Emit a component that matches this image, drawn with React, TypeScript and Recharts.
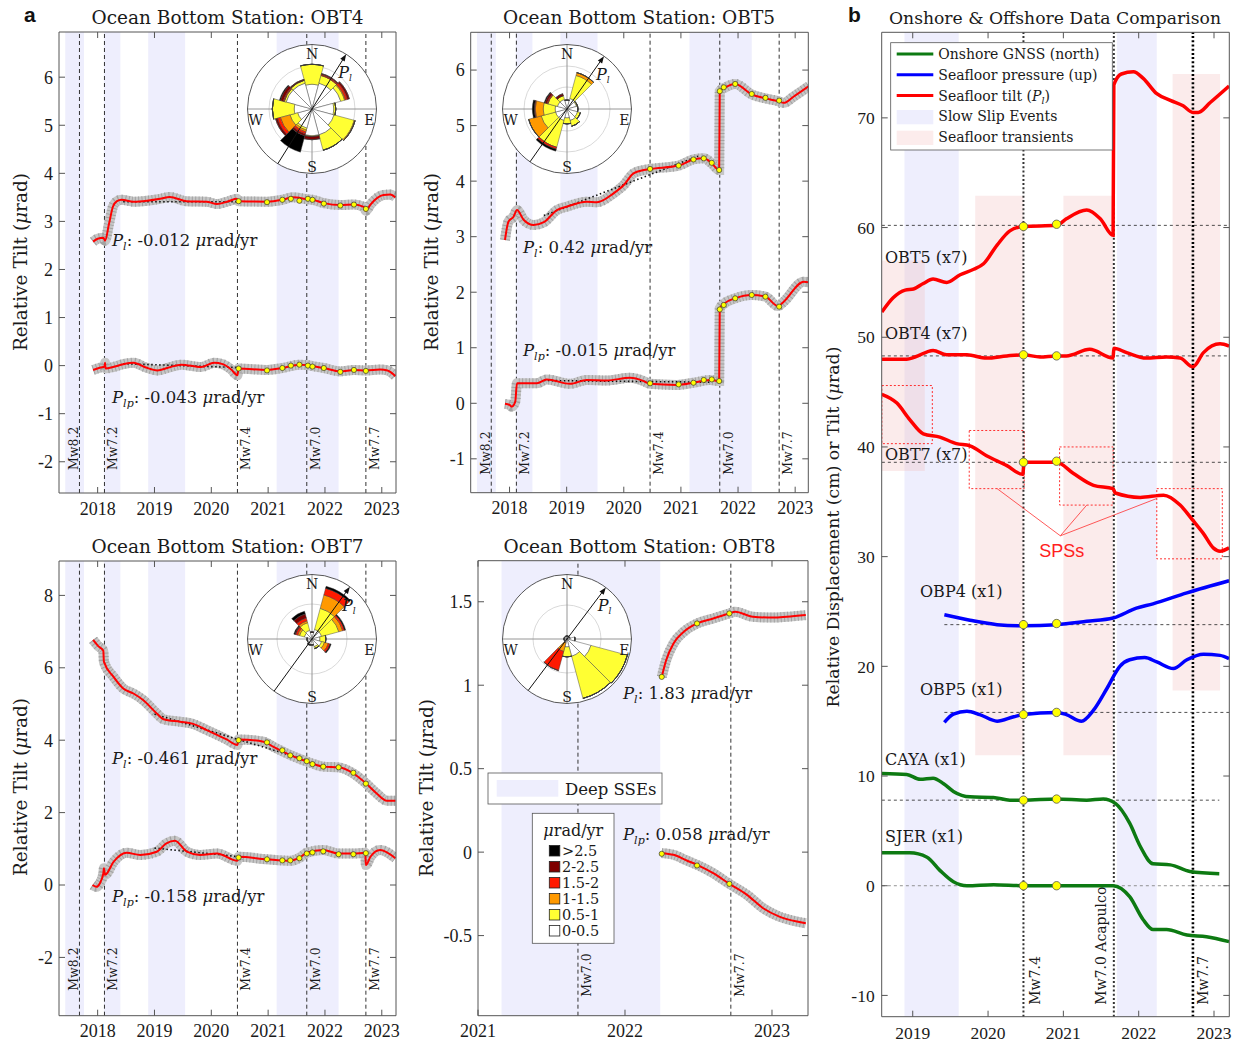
import React from 'react';
import {
  ComposedChart, Line, XAxis, YAxis, ReferenceArea, ReferenceLine,
  RadialBarChart, RadialBar, PolarAngleAxis, PolarRadiusAxis,
} from 'recharts';

const SERIF = '"DejaVu Serif", "Liberation Serif", serif';
const TICKFONT = '"Liberation Serif", "DejaVu Serif", serif';
const SANS = '"Liberation Sans", Arial, sans-serif';
const SSE_FILL = '#eeeefd';
const AXIS_COLOR = '#555';
const TXT = '#1a1a1a';

// ---------------- shared tick labels / events ----------------
const yearTicksA = [2018, 2019, 2020, 2021, 2022, 2023];
const yearTicksB = [2019, 2020, 2021, 2022, 2023];
const yearTicks8 = [2021, 2022, 2023];
const quakeX = [2017.68, 2018.12, 2020.46, 2021.68, 2022.72];
const quakeLabels = ['Mw8.2', 'Mw7.2', 'Mw7.4', 'Mw7.0', 'Mw7.7'];
const quakeSide = [-1, 1, 1, 1, 1];
const sseBandsA = [[2017.43, 2017.76], [2018.11, 2018.4], [2018.89, 2019.54], [2021.15, 2022.24]];
const sseBands8 = [[2021.16, 2022.24]];

// ---------------- OBT4 ----------------
const obt4Pl = [[2017.92,2.58],[2018.0,2.64],[2018.1,2.66],[2018.13,2.6],[2018.2,2.95],[2018.27,3.31],[2018.34,3.42],[2018.42,3.45],[2018.63,3.41],[2018.87,3.43],[2019.1,3.47],[2019.27,3.51],[2019.56,3.42],[2019.92,3.41],[2020.1,3.36],[2020.3,3.42],[2020.45,3.47],[2020.48,3.42],[2020.98,3.41],[2021.25,3.45],[2021.43,3.5],[2021.7,3.46],[2021.78,3.45],[2021.98,3.38],[2022.27,3.34],[2022.51,3.35],[2022.68,3.3],[2022.72,3.22],[2022.8,3.35],[2023.03,3.55],[2023.15,3.56],[2023.24,3.5]];
const obt4Plp = [[2017.92,-0.09],[2018.05,-0.04],[2018.12,-0.02],[2018.13,0.06],[2018.14,-0.06],[2018.27,-0.03],[2018.45,0.03],[2018.63,0.06],[2018.85,-0.04],[2019.05,-0.1],[2019.25,-0.04],[2019.47,0.02],[2019.82,-0.03],[2020.05,0.06],[2020.2,0.03],[2020.35,-0.08],[2020.46,-0.2],[2020.48,-0.06],[2020.98,-0.09],[2021.25,-0.05],[2021.55,0.02],[2021.7,0.01],[2021.78,-0.01],[2021.98,-0.05],[2022.27,-0.12],[2022.51,-0.09],[2022.72,-0.1],[2022.97,-0.08],[2023.1,-0.1],[2023.24,-0.22]];
const obt4DotsPl = [[2020.48,3.42],[2020.98,3.4],[2021.25,3.45],[2021.4,3.47],[2021.55,3.43],[2021.7,3.47],[2021.78,3.45],[2021.98,3.37],[2022.27,3.33],[2022.51,3.35],[2022.72,3.26]];
const obt4DotsPlp = [[2020.48,-0.06],[2020.98,-0.1],[2021.25,-0.05],[2021.4,0.0],[2021.55,0.02],[2021.7,0.0],[2021.78,-0.02],[2021.98,-0.05],[2022.27,-0.13],[2022.51,-0.09],[2022.72,-0.11]];
const obt4TrendPl = [[2018.45,3.41],[2020.48,3.41]];
const obt4TrendPlp = [[2018.45,0.04],[2020.48,-0.04]];

// ---------------- OBT5 ----------------
const obt5Pl = [[2017.92,2.94],[2017.98,3.27],[2018.07,3.36],[2018.13,3.48],[2018.25,3.3],[2018.42,3.21],[2018.6,3.26],[2018.83,3.48],[2019.0,3.54],[2019.35,3.63],[2019.53,3.62],[2019.82,3.78],[2020.0,3.93],[2020.17,4.14],[2020.35,4.2],[2020.46,4.22],[2020.96,4.28],[2021.22,4.39],[2021.4,4.41],[2021.54,4.32],[2021.67,4.2],[2021.68,5.62],[2021.78,5.69],[2021.95,5.75],[2022.24,5.56],[2022.48,5.49],[2022.7,5.44],[2022.8,5.41],[2022.97,5.52],[2023.24,5.71]];
const obt5Plp = [[2017.92,-0.01],[2018.0,-0.03],[2018.04,-0.06],[2018.1,0.03],[2018.13,0.36],[2018.48,0.36],[2018.65,0.43],[2019.06,0.35],[2019.35,0.42],[2019.7,0.41],[2020.11,0.46],[2020.35,0.4],[2020.46,0.35],[2020.93,0.33],[2021.22,0.37],[2021.51,0.42],[2021.67,0.4],[2021.68,1.71],[2021.75,1.79],[2021.95,1.89],[2022.24,1.95],[2022.48,1.92],[2022.7,1.75],[2022.8,1.83],[2023.15,2.19],[2023.24,2.18]];
const obt5DotsPl = [[2020.46,4.22],[2020.96,4.28],[2021.22,4.39],[2021.4,4.41],[2021.54,4.33],[2021.67,4.2],[2021.68,5.62],[2021.75,5.69],[2021.95,5.75],[2022.24,5.57],[2022.48,5.5],[2022.72,5.45]];
const obt5DotsPlp = [[2020.46,0.36],[2020.96,0.34],[2021.22,0.37],[2021.4,0.42],[2021.54,0.43],[2021.67,0.4],[2021.68,1.69],[2021.75,1.77],[2021.95,1.89],[2022.24,1.95],[2022.48,1.92],[2022.72,1.74]];
const obt5TrendPl = [[2018.6,3.38],[2021.3,4.45]];
const obt5TrendPlp = [[2018.6,0.41],[2021.5,0.38]];

// ---------------- OBT7 ----------------
const obt7Pl = [[2017.92,6.77],[2018.01,6.6],[2018.1,6.47],[2018.11,6.17],[2018.28,5.75],[2018.45,5.43],[2018.63,5.29],[2018.8,5.11],[2019.04,4.74],[2019.16,4.58],[2019.45,4.51],[2019.68,4.45],[2019.92,4.28],[2020.27,4.02],[2020.46,3.87],[2020.48,4.02],[2020.92,3.96],[2021.09,3.82],[2021.39,3.59],[2021.68,3.41],[2021.77,3.36],[2021.97,3.27],[2022.24,3.25],[2022.5,3.08],[2022.72,2.81],[2022.91,2.53],[2023.09,2.33],[2023.24,2.33]];
const obt7Plp = [[2017.91,0.0],[2017.98,-0.05],[2018.04,0.05],[2018.1,0.32],[2018.11,0.46],[2018.13,0.28],[2018.28,0.64],[2018.51,0.89],[2018.75,0.83],[2019.04,0.92],[2019.21,1.15],[2019.36,1.22],[2019.57,0.92],[2019.8,0.83],[2020.1,0.87],[2020.46,0.67],[2020.48,0.78],[2020.98,0.71],[2021.39,0.67],[2021.56,0.76],[2021.68,0.89],[2021.97,0.97],[2022.24,0.87],[2022.5,0.87],[2022.71,0.89],[2022.72,0.55],[2022.8,0.78],[2022.97,0.97],[2023.24,0.74]];
const obt7DotsPl = [[2020.48,4.0],[2020.98,3.94],[2021.25,3.72],[2021.39,3.58],[2021.55,3.5],[2021.68,3.42],[2021.78,3.34],[2021.97,3.27],[2022.24,3.25],[2022.5,3.1],[2022.72,2.8]];
const obt7DotsPlp = [[2020.48,0.76],[2020.98,0.71],[2021.25,0.68],[2021.39,0.68],[2021.55,0.74],[2021.68,0.87],[2021.78,0.9],[2021.97,0.93],[2022.24,0.85],[2022.5,0.85],[2022.72,0.88]];
const obt7TrendPl = [[2019.0,4.72],[2021.7,3.44]];
const obt7TrendPlp = [[2019.0,1.02],[2020.5,0.78]];

// ---------------- OBT8 ----------------
const obt8Pl = [[2022.25,1.05],[2022.28,1.15],[2022.33,1.25],[2022.4,1.32],[2022.49,1.37],[2022.6,1.4],[2022.71,1.43],[2022.75,1.44],[2022.87,1.41],[2023.01,1.405],[2023.1,1.41],[2023.23,1.42]];
const obt8Plp = [[2022.25,-0.006],[2022.33,-0.016],[2022.42,-0.05],[2022.49,-0.076],[2022.6,-0.126],[2022.71,-0.19],[2022.83,-0.256],[2022.94,-0.336],[2023.05,-0.386],[2023.17,-0.416],[2023.23,-0.426]];
const obt8DotsPl = [[2022.25,1.05],[2022.49,1.37],[2022.71,1.43]];
const obt8DotsPlp = [[2022.25,-0.01],[2022.49,-0.08],[2022.71,-0.19]];

// ---------------- rose diagrams ----------------
const roseDirs = ['0','30','60','90','120','150','180','210','240','270','300','330'];
const classKeys = ['c0','c1','c2','c3','c4','c5'];
const classColors = ['#ffffff','#ffff33','#ff9900','#ff1a00','#7f0000','#000000'];
const classLabels = ['0-0.5','0.5-1','1-1.5','1.5-2','2-2.5','>2.5'];
const roseObt4 = [[25,20,0,0,0,0],[27,8,0,1,1,0],[30,4,1,2,2,0],[22,2,0,0,0,0],[23,21,1,0,0,0],[27,16,0,0,0,0],[27,1,0,0,3,0],[20,2,2,2,2,17],[15,8,10,3,2,0],[18,22,0,0,0,0],[27,2,0,1,3,1],[27,3,0,0,1,0]];
const roseObt5 = [[9,0,0,0,0,0],[11,24,3,0,0,0],[10,1,0,0,0,0],[11,0,0,0,0,0],[11,3,0,0,0,0],[12,6,0,0,0,0],[9,6,0,0,0,0],[12,28,0,2,0,2],[12,15,13,0,0,0],[12,12,8,1,0,2],[10,10,0,1,2,1],[10,4,0,0,2,0]];
const roseObt7 = [[7,0,0,0,0,0],[10,22,14,7,0,2],[10,18,4,2,0,1],[8,6,0,0,0,0],[10,3,4,2,0,1],[8,2,0,0,0,0],[6,0,0,0,0,0],[6,0,0,0,0,1],[5,0,0,0,0,0],[5,0,0,0,0,0],[8,5,2,2,1,1],[9,8,2,3,4,3]];
const roseObt8 = [[3,0,0,0,0,0],[3,0,0,0,0,0],[3,0,0,0,0,0],[8,0,0,0,0,0],[25,38,0,0,0,0],[18,44,0,0,0,0],[8,10,0,0,0,0],[4,0,9,20,0,0],[3,0,0,0,0,0],[3,0,0,0,0,0],[3,0,0,0,0,0],[3,0,0,0,0,0]];
const arrowDeg = { obt4: 32, obt5: 35, obt7: 36, obt8: 37 };

// ---------------- panel b ----------------
const bObt5 = [[2018.59,52.3],[2018.74,53.6],[2018.9,54.3],[2019.01,54.4],[2019.14,54.9],[2019.27,55.3],[2019.45,55.0],[2019.63,55.7],[2019.81,56.2],[2019.94,56.7],[2020.12,58.4],[2020.29,59.7],[2020.47,60.1],[2020.91,60.2],[2021.04,60.8],[2021.31,61.6],[2021.49,60.8],[2021.66,59.3],[2021.67,73.0],[2021.77,74.0],[2021.93,74.2],[2022.06,73.6],[2022.24,72.2],[2022.42,71.6],[2022.59,71.1],[2022.72,70.5],[2022.79,70.5],[2022.95,71.4],[2023.2,72.9]];
const bObt4 = [[2018.59,48.0],[2018.92,48.0],[2019.03,48.2],[2019.27,48.8],[2019.45,48.4],[2019.72,48.4],[2019.98,48.1],[2020.25,48.3],[2020.47,48.4],[2020.69,48.2],[2020.91,48.3],[2021.04,48.3],[2021.35,48.9],[2021.66,48.1],[2021.67,49.0],[2021.84,48.6],[2022.1,48.1],[2022.37,48.2],[2022.55,48.1],[2022.72,47.3],[2022.86,48.6],[2023.08,49.4],[2023.2,49.2]];
const bObt7 = [[2018.59,44.8],[2018.79,44.0],[2018.96,42.5],[2019.14,41.2],[2019.36,40.9],[2019.58,40.3],[2019.76,40.1],[2019.98,39.2],[2020.25,38.3],[2020.46,37.5],[2020.48,38.6],[2020.91,38.6],[2021.13,37.6],[2021.4,36.5],[2021.66,36.2],[2021.69,35.8],[2022.02,35.4],[2022.33,35.6],[2022.55,34.7],[2022.72,33.3],[2022.86,32.1],[2022.99,30.8],[2023.08,30.5],[2023.2,30.8]];
const bObp4 = [[2019.42,24.7],[2019.76,24.2],[2020.12,23.8],[2020.47,23.7],[2020.91,23.8],[2021.31,24.1],[2021.66,24.4],[2021.97,25.3],[2022.19,25.7],[2022.64,26.7],[2023.2,27.8]];
const bObp5 = [[2019.42,14.9],[2019.54,15.65],[2019.72,15.9],[2019.89,15.6],[2020.12,15.0],[2020.34,15.4],[2020.47,15.6],[2020.91,15.8],[2021.04,15.6],[2021.24,15.0],[2021.4,16.0],[2021.58,18.0],[2021.75,20.0],[2021.88,20.6],[2022.08,20.8],[2022.24,20.4],[2022.46,19.8],[2022.64,20.6],[2022.86,21.1],[2023.08,21.0],[2023.2,20.7]];
const bCaya = [[2018.59,10.24],[2018.92,10.15],[2019.1,9.7],[2019.27,9.8],[2019.41,9.3],[2019.54,8.6],[2019.76,8.1],[2020.07,8.05],[2020.29,7.8],[2020.47,7.8],[2020.91,7.9],[2021.31,7.8],[2021.53,7.9],[2021.69,7.5],[2021.88,5.7],[2022.02,3.6],[2022.19,2.0],[2022.42,1.9],[2022.68,1.3],[2023.07,1.1]];
const bSjer = [[2018.59,3.0],[2018.96,3.0],[2019.19,2.6],[2019.36,1.4],[2019.54,0.36],[2019.72,0.0],[2020.07,0.1],[2020.47,0.0],[2020.91,0.0],[2021.31,0.0],[2021.66,0.0],[2021.88,-1.0],[2022.06,-3.1],[2022.19,-4.0],[2022.37,-4.0],[2022.64,-4.5],[2022.9,-4.65],[2023.2,-5.1]];
const bDotYears = [2020.47, 2020.91];
const bDotObt5 = [60.1, 60.3];
const bDotObt4 = [48.4, 48.3];
const bDotObt7 = [38.6, 38.7];
const bDotObp4 = [23.8, 23.9];
const bDotObp5 = [15.6, 15.8];
const bDotCaya = [7.8, 7.9];
const bDotSjer = [0, 0];
const bRefLines = [[[2018.59,60.2],[2023.2,60.2]],[[2018.59,48.3],[2023.2,48.3]],[[2018.59,38.6],[2023.2,38.6]],[[2019.42,23.8],[2023.2,23.8]],[[2019.42,15.8],[2023.2,15.8]],[[2018.59,7.8],[2023.07,7.8]],[[2018.59,0],[2023.2,0]]];
const bSseBands = [[2018.89, 2019.61], [2021.71, 2022.24]];
const bTransients = [[2019.83,2020.47,11.9,62.9],[2021.0,2021.66,11.9,62.9],[2022.45,2023.08,17.8,74.0],[2018.59,2019.16,37.8,57.0]];
const bSpsBoxes = [[2018.59,2019.26,40.3,45.6],[2019.75,2020.48,36.2,41.5],[2020.95,2021.66,34.7,40.0],[2022.24,2023.11,29.8,36.2]];
const bSpsLinks = [[[2020.12,36.2],[2020.96,31.9]],[[2021.31,34.7],[2020.96,31.9]],[[2022.24,35.3],[2020.96,31.9]]];
const bQuakeX = [2020.47, 2021.67, 2022.72];
const bQuakeLabels = ['Mw7.4', 'Mw7.0 Acapulco', 'Mw7.7'];
const bQuakeSide = [1, -1, 1];
const bYTicks = [-10, 0, 10, 20, 30, 40, 50, 60, 70];

const xy = (a: number[][]) => a.map(([x, y]) => ({ x, y }));

// ---------------- helpers ----------------
function frame(xDomain: number[], xTicks: number[], yDomain: number[], yTicks: number[], fs: number, xm: number, ym: number) {
  const tickStyle = { fill: TXT, fontSize: fs, fontFamily: TICKFONT };
  const ln = { stroke: AXIS_COLOR, strokeWidth: 1 };
  const blank = () => '';
  return [
    <XAxis key="xb" type="number" dataKey="x" domain={xDomain} ticks={xTicks} allowDataOverflow interval={0} height={1} tickSize={-6} tickMargin={xm} tick={tickStyle} axisLine={ln} tickLine={ln} />,
    <XAxis key="xt" xAxisId="top" orientation="top" type="number" dataKey="x" domain={xDomain} ticks={xTicks} allowDataOverflow interval={0} height={1} tickSize={-6} tickFormatter={blank} axisLine={ln} tickLine={ln} />,
    <YAxis key="yl" type="number" domain={yDomain} ticks={yTicks} allowDataOverflow interval={0} width={1} tickSize={-6} tickMargin={ym} tick={tickStyle} axisLine={ln} tickLine={ln} />,
    <YAxis key="yr" yAxisId="right" orientation="right" type="number" domain={yDomain} ticks={yTicks} allowDataOverflow interval={0} width={1} tickSize={-6} tickFormatter={blank} axisLine={ln} tickLine={ln} />,
  ];
}
const shrink = (m: { top: number; right: number; bottom: number; left: number }) => ({ top: m.top - 1, right: m.right - 1, bottom: m.bottom - 1, left: m.left - 1 });

function QuakeLabel(props: any) {
  const { viewBox, qtext, qshift, qlift, qsize } = props;
  if (!viewBox) return null;
  const x = viewBox.x + qshift;
  const y = viewBox.y + viewBox.height - qlift;
  return (
    <text x={x} y={y} transform={`rotate(-90 ${x} ${y})`} fontFamily={SERIF} fontSize={qsize} fill={TXT}>{qtext}</text>
  );
}

type PanelCfg = {
  left: number; top: number; width: number; height: number;
  margin: { top: number; right: number; bottom: number; left: number };
  xDomain: number[]; xTicks: number[]; yDomain: number[]; yTicks: number[];
  bands: number[][]; quakeIdx: number[]; lift: number;
  curves: number[][][]; dots: number[][][]; trends: number[][][];
};

function TiltPanel({ cfg }: { cfg: PanelCfg }) {
  const c = cfg;
  const none = { dot: false, activeDot: false, isAnimationActive: false, legendType: 'none' as const };
  return (
    <div style={{ position: 'absolute', left: c.left, top: c.top }}>
      <ComposedChart width={c.width} height={c.height} margin={shrink(c.margin)}>
        {c.bands.map(([a, b], i) => (
          <ReferenceArea key={'band' + i} x1={a} x2={b} y1={c.yDomain[0]} y2={c.yDomain[1]} fill={SSE_FILL} fillOpacity={1} stroke="none" ifOverflow="hidden" />
        ))}
        {frame(c.xDomain, c.xTicks, c.yDomain, c.yTicks, 18, 15, 12)}
        {c.quakeIdx.map((qi) => (
          <ReferenceLine key={'q' + qi} x={quakeX[qi]} stroke="#333" strokeWidth={1} strokeDasharray="4 3"
            label={<QuakeLabel qtext={quakeLabels[qi]} qshift={quakeSide[qi] > 0 ? 13 : -1.5} qlift={c.lift} qsize={12.5} />} />
        ))}
        {c.curves.map((cv, i) => (
          <Line key={'grey' + i} data={xy(cv)} dataKey="y" type="monotone" stroke="#c6c6c6" strokeWidth={10} {...none} />
        ))}
        {c.curves.map((cv, i) => (
          <Line key={'speck' + i} data={xy(cv)} dataKey="y" type="monotone" stroke="#a2a2a2" strokeWidth={10} strokeDasharray="1 2.4" {...none} />
        ))}
        {c.trends.map((t, i) => (
          <Line key={'trend' + i} data={xy(t)} dataKey="y" type="linear" stroke="#111" strokeWidth={1.6} strokeDasharray="1.5 2.5" {...none} />
        ))}
        {c.curves.map((cv, i) => (
          <Line key={'red' + i} data={xy(cv)} dataKey="y" type="monotone" stroke="#ff0000" strokeWidth={2} {...none} />
        ))}
        {c.dots.map((d, i) => (
          <Line key={'dot' + i} data={xy(d)} dataKey="y" stroke="none" dot={{ r: 2.6, fill: '#ffff00', stroke: '#333', strokeWidth: 0.7 }} activeDot={false} isAnimationActive={false} legendType="none" />
        ))}
      </ComposedChart>
    </div>
  );
}

function Rose({ cx, cy, rows, grid, dir }: { cx: number; cy: number; rows: number[][]; grid: number[]; dir: number }) {
  const R = 64.5;
  const S = 150;
  const c = S / 2;
  const data = roseDirs.map((d, i) => {
    const o: any = { dir: d };
    classKeys.forEach((k, j) => { o[k] = rows[i][j]; });
    return o;
  });
  const rad = (dir * Math.PI) / 180;
  const ux = Math.sin(rad), uy = -Math.cos(rad);
  const tip = [c + R * ux, c + R * uy];
  const tail = [c - R * ux, c - R * uy];
  const nx = -uy, ny = ux;
  const head = `${tip[0]},${tip[1]} ${tip[0] - 7 * ux + 2.6 * nx},${tip[1] - 7 * uy + 2.6 * ny} ${tip[0] - 7 * ux - 2.6 * nx},${tip[1] - 7 * uy - 2.6 * ny}`;
  const fs = 14;
  return (
    <div style={{ position: 'absolute', left: cx - c, top: cy - c, width: S, height: S }}>
      <svg width={S} height={S} style={{ position: 'absolute', left: 0, top: 0 }}>
        <circle cx={c} cy={c} r={R} fill="#fff" stroke="none" />
        {grid.map((g) => <circle key={g} cx={c} cy={c} r={g} fill="none" stroke="#cfcfcf" strokeWidth={0.8} />)}
        <line x1={c - R} y1={c} x2={c + R} y2={c} stroke="#8a8a8a" strokeWidth={0.9} />
        <line x1={c} y1={c - R} x2={c} y2={c + R} stroke="#8a8a8a" strokeWidth={0.9} />
      </svg>
      <div style={{ position: 'absolute', left: 0, top: 0 }}>
        <RadialBarChart width={S} height={S} cx={c} cy={c} innerRadius={0} outerRadius={R}
          startAngle={75} endAngle={-285} layout="centric" data={data} barCategoryGap={0}
          margin={{ top: 0, right: 0, bottom: 0, left: 0 }}>
          <PolarAngleAxis type="category" dataKey="dir" tick={false} axisLine={false} tickLine={false} />
          <PolarRadiusAxis type="number" domain={[0, R]} tick={false} axisLine={false} tickLine={false} allowDataOverflow />
          {classKeys.map((k, i) => (
            <RadialBar key={k} dataKey={k} stackId="s" fill={classColors[i]} stroke="#3a3a3a" strokeWidth={0.45} isAnimationActive={false} legendType="none" />
          ))}
        </RadialBarChart>
      </div>
      <svg width={S} height={S} style={{ position: 'absolute', left: 0, top: 0, overflow: 'visible' }}>
        <circle cx={c} cy={c} r={R} fill="none" stroke="#444" strokeWidth={0.9} />
        <line x1={tail[0]} y1={tail[1]} x2={tip[0] - 4 * ux} y2={tip[1] - 4 * uy} stroke="#111" strokeWidth={1} />
        <polygon points={head} fill="#111" />
        <text x={tip[0] - 8} y={tip[1] + 24} fontFamily={SERIF} fontSize={16} fill={TXT}>
          <tspan fontStyle="italic">P</tspan><tspan fontStyle="italic" fontSize={9} dy={3}>l</tspan>
        </text>
        <text x={c} y={c - R + 14.5} textAnchor="middle" fontFamily={SERIF} fontSize={fs} fill={TXT}>N</text>
        <text x={c} y={c + R - 2} textAnchor="middle" fontFamily={SERIF} fontSize={fs} fill={TXT}>S</text>
        <text x={c - R + 1} y={c + 16} fontFamily={SERIF} fontSize={fs} fill={TXT}>W</text>
        <text x={c + R - 2} y={c + 16} textAnchor="end" fontFamily={SERIF} fontSize={fs} fill={TXT}>E</text>
      </svg>
    </div>
  );
}

function Rate({ x, y, sub, value }: { x: number; y: number; sub: string; value: string }) {
  return (
    <text x={x} y={y} fontFamily={SERIF} fontSize={16.5} fill={TXT}>
      <tspan fontStyle="italic">P</tspan>
      <tspan fontStyle="italic" fontSize={11} dy={4}>{sub}</tspan>
      <tspan dy={-4}>{': ' + value + ' '}</tspan>
      <tspan fontStyle="italic">μ</tspan>
      <tspan>rad/yr</tspan>
    </text>
  );
}

function YLabel({ x, y, pre, fs }: { x: number; y: number; pre: string; fs: number }) {
  return (
    <text x={x} y={y} transform={`rotate(-90 ${x} ${y})`} textAnchor="middle" fontFamily={SERIF} fontSize={fs} fill={TXT}>
      <tspan>{pre}</tspan><tspan fontStyle="italic">μ</tspan><tspan>rad)</tspan>
    </text>
  );
}

function PanelB() {
  const xDomain = [2018.588, 2023.203];
  const yDomain = [-11.94, 77.8];
  const lineProps = { dot: false, activeDot: false, isAnimationActive: false, legendType: 'none' as const };
  const dotSets = [bDotObt5, bDotObt4, bDotObt7, bDotObp4, bDotObp5, bDotCaya, bDotSjer];
  return (
    <div style={{ position: 'absolute', left: 820, top: 0 }}>
      <ComposedChart width={423} height={1049} margin={shrink({ top: 32.3, right: 13.7, bottom: 32.3, left: 61.7 })}>
        {bSseBands.map(([a, b], i) => (
          <ReferenceArea key={'sse' + i} x1={a} x2={b} y1={yDomain[0]} y2={yDomain[1]} fill={SSE_FILL} fillOpacity={1} stroke="none" ifOverflow="hidden" />
        ))}
        {bTransients.map(([a, b, lo, hi], i) => (
          <ReferenceArea key={'tr' + i} x1={a} x2={b} y1={lo} y2={hi} fill="#f2bcbc" fillOpacity={0.3} stroke="none" ifOverflow="hidden" />
        ))}
        {frame(xDomain, yearTicksB, yDomain, bYTicks, 17.5, 16, 13)}
        {bSpsBoxes.map(([a, b, lo, hi], i) => (
          <ReferenceArea key={'sps' + i} x1={a} x2={b} y1={lo} y2={hi} fill="none" fillOpacity={0} stroke="#ff3030" strokeWidth={1} strokeDasharray="2 2" ifOverflow="hidden" />
        ))}
        {bQuakeX.map((qx, i) => (
          <ReferenceLine key={'bq' + i} x={qx} stroke={i === 2 ? '#000' : '#333'} strokeWidth={i === 2 ? 2.6 : 2} strokeDasharray="2 2.2"
            label={<QuakeLabel qtext={bQuakeLabels[i]} qshift={bQuakeSide[i] > 0 ? (i === 2 ? 15 : 17) : -8} qlift={12} qsize={14} />} />
        ))}
        {bRefLines.map((l, i) => (
          <Line key={'ref' + i} data={xy(l)} dataKey="y" type="linear" stroke={i === 6 ? '#777' : '#222'} strokeWidth={0.8} strokeDasharray="3 3" {...lineProps} />
        ))}
        {bSpsLinks.map((l, i) => (
          <Line key={'lk' + i} data={xy(l)} dataKey="y" type="linear" stroke="#ff3030" strokeWidth={0.8} {...lineProps} />
        ))}
        <Line data={xy(bObt5)} dataKey="y" type="monotone" stroke="#ff0000" strokeWidth={3.5} {...lineProps} />
        <Line data={xy(bObt4)} dataKey="y" type="monotone" stroke="#ff0000" strokeWidth={3.5} {...lineProps} />
        <Line data={xy(bObt7)} dataKey="y" type="monotone" stroke="#ff0000" strokeWidth={3.5} {...lineProps} />
        <Line data={xy(bObp4)} dataKey="y" type="monotone" stroke="#0000ff" strokeWidth={3.5} {...lineProps} />
        <Line data={xy(bObp5)} dataKey="y" type="monotone" stroke="#0000ff" strokeWidth={3.5} {...lineProps} />
        <Line data={xy(bCaya)} dataKey="y" type="monotone" stroke="#0d7a12" strokeWidth={3.5} {...lineProps} />
        <Line data={xy(bSjer)} dataKey="y" type="monotone" stroke="#0d7a12" strokeWidth={3.5} {...lineProps} />
        {dotSets.map((vals, i) => (
          <Line key={'bd' + i} data={bDotYears.map((x, j) => ({ x, y: vals[j] }))} dataKey="y" stroke="none"
            dot={{ r: 4.2, fill: '#ffff00', stroke: '#555', strokeWidth: 0.8 }} activeDot={false} isAnimationActive={false} legendType="none" />
        ))}
      </ComposedChart>
    </div>
  );
}

const panels: PanelCfg[] = [
  {
    left: 0, top: 0, width: 420, height: 520, margin: { top: 32, right: 24, bottom: 27, left: 59 },
    xDomain: [2017.32, 2023.25], xTicks: yearTicksA, yDomain: [-2.65, 6.94], yTicks: [-2, -1, 0, 1, 2, 3, 4, 5, 6],
    bands: sseBandsA, quakeIdx: [0, 1, 2, 3, 4], lift: 23,
    curves: [obt4Pl, obt4Plp], dots: [obt4DotsPl, obt4DotsPlp], trends: [obt4TrendPl, obt4TrendPlp],
  },
  {
    left: 420, top: 0, width: 400, height: 520, margin: { top: 32.3, right: 11.7, bottom: 27.3, left: 50.7 },
    xDomain: [2017.32, 2023.23], xTicks: yearTicksA, yDomain: [-1.61, 6.68], yTicks: [-1, 0, 1, 2, 3, 4, 5, 6],
    bands: sseBandsA, quakeIdx: [0, 1, 2, 3, 4], lift: 18,
    curves: [obt5Pl, obt5Plp], dots: [obt5DotsPl, obt5DotsPlp], trends: [obt5TrendPl, obt5TrendPlp],
  },
  {
    left: 0, top: 520, width: 420, height: 529, margin: { top: 41, right: 24, bottom: 33.3, left: 59 },
    xDomain: [2017.32, 2023.25], xTicks: yearTicksA, yDomain: [-3.61, 8.95], yTicks: [-2, 0, 2, 4, 6, 8],
    bands: sseBandsA, quakeIdx: [0, 1, 2, 3, 4], lift: 25,
    curves: [obt7Pl, obt7Plp], dots: [obt7DotsPl, obt7DotsPlp], trends: [obt7TrendPl, obt7TrendPlp],
  },
  {
    left: 420, top: 520, width: 400, height: 529, margin: { top: 40.7, right: 12, bottom: 33.3, left: 58 },
    xDomain: [2021, 2023.245], xTicks: yearTicks8, yDomain: [-0.98, 1.746], yTicks: [-0.5, 0, 0.5, 1, 1.5],
    bands: sseBands8, quakeIdx: [3, 4], lift: 19,
    curves: [obt8Pl, obt8Plp], dots: [obt8DotsPl, obt8DotsPlp], trends: [],
  },
];

function Overlay() {
  const tfs = 18.5;
  const legendRows = ['Onshore GNSS (north)', 'Seafloor pressure (up)', '', 'Slow Slip Events', 'Seafloor transients'];
  const legendColors = ['#0d7a12', '#0000ff', '#ff0000'];
  return (
    <svg width={1243} height={1049} style={{ position: 'absolute', left: 0, top: 0, pointerEvents: 'none' }}>
      <text x={24} y={22} fontFamily={SANS} fontSize={21} fontWeight="bold" fill="#111">a</text>
      <text x={848} y={22} fontFamily={SANS} fontSize={21} fontWeight="bold" fill="#111">b</text>
      <text x={227.5} y={24} textAnchor="middle" fontFamily={SERIF} fontSize={tfs} fill={TXT}>Ocean Bottom Station: OBT4</text>
      <text x={639} y={24} textAnchor="middle" fontFamily={SERIF} fontSize={tfs} fill={TXT}>Ocean Bottom Station: OBT5</text>
      <text x={227.5} y={553} textAnchor="middle" fontFamily={SERIF} fontSize={tfs} fill={TXT}>Ocean Bottom Station: OBT7</text>
      <text x={639.5} y={553} textAnchor="middle" fontFamily={SERIF} fontSize={tfs} fill={TXT}>Ocean Bottom Station: OBT8</text>
      <text x={1055} y={24} textAnchor="middle" fontFamily={SERIF} fontSize={17.2} fill={TXT}>Onshore &amp; Offshore Data Comparison</text>

      <YLabel x={27} y={262} pre="Relative Tilt (" fs={18.5} />
      <YLabel x={438} y={262} pre="Relative Tilt (" fs={18.5} />
      <YLabel x={27} y={787} pre="Relative Tilt (" fs={18.5} />
      <YLabel x={433} y={788} pre="Relative Tilt (" fs={18.5} />
      <YLabel x={839} y={527} pre="Relative Displacement (cm) or Tilt (" fs={17.3} />

      <Rate x={112} y={245.5} sub="l" value="-0.012" />
      <Rate x={112} y={403} sub="lp" value="-0.043" />
      <Rate x={523} y={253} sub="l" value="0.42" />
      <Rate x={523} y={356} sub="lp" value="-0.015" />
      <Rate x={112} y={764} sub="l" value="-0.461" />
      <Rate x={112} y={901.5} sub="lp" value="-0.158" />
      <Rate x={623} y={699} sub="l" value="1.83" />
      <Rate x={623} y={840} sub="lp" value="0.058" />

      {[['OBT5 (x7)', 885, 263], ['OBT4 (x7)', 885, 339], ['OBT7 (x7)', 885, 460], ['OBP4 (x1)', 920, 596.7], ['OBP5 (x1)', 920, 695], ['CAYA (x1)', 885, 765], ['SJER (x1)', 885, 841.7]].map(([t, x, y]) => (
        <text key={t as string} x={x as number} y={y as number} fontFamily={SERIF} fontSize={16} fill={TXT}>{t}</text>
      ))}
      <text x={1061.7} y={557} textAnchor="middle" fontFamily={SANS} fontSize={18} fill="#ff2020">SPSs</text>

      <rect x={890.7} y={42.7} width={221.6} height={107.3} fill="#fff" stroke="#555" strokeWidth={0.8} />
      {legendColors.map((col, i) => (
        <line key={col} x1={896.7} x2={933.3} y1={54 + i * 20.7} y2={54 + i * 20.7} stroke={col} strokeWidth={3} />
      ))}
      <rect x={896.7} y={110} width={36.6} height={14.3} fill={SSE_FILL} />
      <rect x={896.7} y={130.7} width={36.6} height={14.3} fill="#fcecec" />
      {legendRows.map((t, i) => t ? (
        <text key={t} x={938.3} y={59.3 + i * 20.7} fontFamily={SERIF} fontSize={14} fill={TXT}>{t}</text>
      ) : (
        <text key="tilt" x={938.3} y={59.3 + i * 20.7} fontFamily={SERIF} fontSize={14} fill={TXT}>
          <tspan>Seafloor tilt (</tspan><tspan fontStyle="italic">P</tspan><tspan fontStyle="italic" fontSize={9.5} dy={3}>l</tspan><tspan dy={-3}>)</tspan>
        </text>
      ))}

      <rect x={488} y={773} width={174} height={31} fill="#fff" stroke="#555" strokeWidth={0.8} />
      <rect x={496.7} y={780} width={61.6} height={16.7} fill={SSE_FILL} />
      <text x={565} y={795} fontFamily={SERIF} fontSize={16.5} fill={TXT}>Deep SSEs</text>
      <rect x={532.3} y={813.3} width={81.7} height={130} fill="#fff" stroke="#555" strokeWidth={0.8} />
      <text x={573.3} y={836} textAnchor="middle" fontFamily={SERIF} fontSize={16} fill={TXT}>
        <tspan fontStyle="italic">μ</tspan><tspan>rad/yr</tspan>
      </text>
      {[5, 4, 3, 2, 1, 0].map((ci, r) => (
        <g key={ci}>
          <rect x={549.3} y={845.5 + r * 16} width={10.5} height={10.5} fill={classColors[ci]} stroke="#222" strokeWidth={0.8} />
          <text x={562} y={856 + r * 16} fontFamily={SERIF} fontSize={14.5} fill={TXT}>{classLabels[ci]}</text>
        </g>
      ))}
    </svg>
  );
}

export default function App() {
  return (
    <div style={{ position: 'absolute', left: 0, top: 0, width: 1243, height: 1049, background: '#fff', overflow: 'hidden' }}>
      {panels.map((p, i) => <TiltPanel key={i} cfg={p} />)}
      <PanelB />
      <Rose cx={312} cy={109} rows={roseObt4} grid={[43]} dir={arrowDeg.obt4} />
      <Rose cx={567} cy={109} rows={roseObt5} grid={[22, 43]} dir={arrowDeg.obt5} />
      <Rose cx={311.5} cy={639} rows={roseObt7} grid={[35]} dir={arrowDeg.obt7} />
      <Rose cx={566.5} cy={639} rows={roseObt8} grid={[34]} dir={arrowDeg.obt8} />
      <Overlay />
    </div>
  );
}
